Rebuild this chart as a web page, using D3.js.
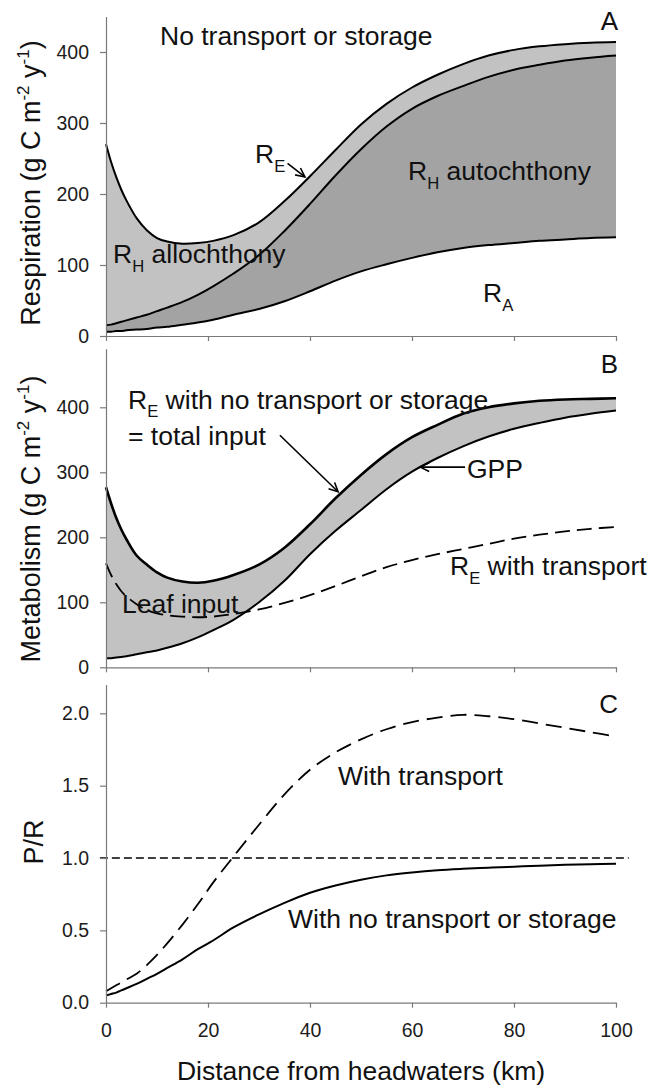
<!DOCTYPE html>
<html><head><meta charset="utf-8">
<script src="https://cdn.jsdelivr.net/npm/d3@7"></script>
<style>
html,body{margin:0;padding:0;background:#fff;}
svg{display:block;font-family:"Liberation Sans",Arial,sans-serif;}
</style></head>
<body>
<svg id="chart" width="652" height="1085"></svg>
<script>
// Distance from headwaters (km)
const dist = [0,1,2,3,4,6,8,10,12,15,18,21,25,30,35,40,45,50,55,60,65,70,75,80,85,90,95,100];
// Panel A: respiration (g C m-2 y-1)
const respRE  = [270,245,224,206,191,166,149,138,133,130,131,134,142,160,190,225,262,298,327,350,368,383,395,403,408,411,413,414];
const respGPP = [15,16,18,20,22,26,30,35,40,48,58,70,88,114,148,186,226,263,295,320,338,352,365,375,382,388,392,395];
const respRA  = [6,6,7,7,8,9,10,12,13,16,19,23,30,38,49,63,78,91,101,110,118,124,128,131,134,136,138,139];
// Panel B: metabolism (g C m-2 y-1)
const metRE   = [277,252,230,212,197,172,158,146,138,132,130,133,142,158,184,220,260,296,328,354,373,390,400,406,410,412,413,414];
const metGPP  = [14,14,15,16,17,20,23,26,30,37,46,57,73,100,133,174,210,242,274,301,322,340,355,367,376,384,390,395];
const metRETransport = [160,142,128,117,109,97,88,83,80,78,77,78,82,89,99,111,125,140,154,165,174,182,190,198,204,209,213,216];
// Panel C: P/R
const prNone  = [0.05,0.06,0.07,0.085,0.1,0.13,0.165,0.2,0.24,0.3,0.37,0.43,0.52,0.61,0.69,0.76,0.81,0.85,0.88,0.9,0.915,0.925,0.933,0.94,0.947,0.953,0.957,0.96];
const prTrans = [0.08,0.1,0.12,0.14,0.16,0.2,0.26,0.33,0.41,0.54,0.68,0.83,1.01,1.23,1.44,1.61,1.73,1.82,1.89,1.94,1.97,1.99,1.98,1.96,1.93,1.9,1.87,1.84];
// Tick values
const xTicks = [0,20,40,60,80,100];
const yTicksA = [0,100,200,300,400];
const yTicksB = [0,100,200,300,400];
const yTicksC = [0,0.5,1.0,1.5,2.0];

const svg = d3.select("#chart");
const x = d3.scaleLinear().domain([0,100]).range([106,616]);
const yA = d3.scaleLinear().domain([0,450]).range([336,16.5]);
const yB = d3.scaleLinear().domain([0,490]).range([667.3,348.8]);
const yC = d3.scaleLinear().domain([0,2.2]).range([1002.7,684.4]);

const LIGHT = "#c2c2c2", DARK = "#a3a3a3";
const curve = d3.curveCatmullRom.alpha(0.5);

function band(y, lo, hi, fill){
  svg.append("path").datum(dist.map((d,i)=>[d,lo[i],hi[i]]))
    .attr("fill",fill).attr("stroke","none")
    .attr("d", d3.area().curve(curve).x(d=>x(d[0])).y0(d=>y(d[1])).y1(d=>y(d[2])));
}
function line(y, vals, w, dash){
  const p = svg.append("path").datum(dist.map((d,i)=>[d,vals[i]]))
    .attr("fill","none").attr("stroke","#000").attr("stroke-width",w)
    .attr("stroke-linejoin","round")
    .attr("d", d3.line().curve(curve).x(d=>x(d[0])).y(d=>y(d[1])));
  if(dash) p.attr("stroke-dasharray",dash);
  return p;
}
function axes(y, yt, fmt, showX){
  const gy = svg.append("g").attr("transform","translate(106,0)")
    .call(d3.axisLeft(y).tickValues(yt).tickSize(6).tickSizeOuter(0).tickPadding(11).tickFormat(fmt));
  const gx = svg.append("g").attr("transform",`translate(0,${y(0)})`)
    .call(d3.axisBottom(x).tickValues(xTicks).tickSize(5).tickSizeOuter(0).tickPadding(15)
      .tickFormat(showX ? d3.format("d") : ""));
  [gy,gx].forEach(g=>{
    g.select(".domain").attr("stroke","#7a7a7a").attr("stroke-width",1.2);
    g.selectAll(".tick line").attr("stroke","#7a7a7a").attr("stroke-width",1.2);
    g.selectAll(".tick text").attr("fill","#1c1c1c").style("font-size","19.5px")
      .style("font-family","'Liberation Sans',Arial,sans-serif");
  });
}
function label(px, py, parts, size, subDy){
  size = size || 25.5;
  subDy = subDy || 9;
  const t = svg.append("text").attr("transform",`translate(${px},${py}) scale(1.04,1)`).attr("fill","#111")
    .style("font-size",size+"px");
  let shifted = false;
  parts.forEach(p=>{
    const s = t.append("tspan").text(p.t);
    if(p.sub){ s.style("font-size","16px").attr("dy",subDy); shifted = true; }
    else { s.style("font-size",size+"px"); if(shifted){ s.attr("dy",-subDy); shifted=false; } }
  });
  return t;
}
function arrow(y, x0, v0, x1, v1){
  const X0=x(x0), Y0=y(v0), X1=x(x1), Y1=y(v1);
  svg.append("line").attr("x1",X0).attr("y1",Y0).attr("x2",X1).attr("y2",Y1)
    .attr("stroke","#000").attr("stroke-width",1.6);
  const a = Math.atan2(Y1-Y0, X1-X0), L=10, s=0.45;
  svg.append("path")
    .attr("d",`M${X1-L*Math.cos(a-s)},${Y1-L*Math.sin(a-s)}L${X1},${Y1}L${X1-L*Math.cos(a+s)},${Y1-L*Math.sin(a+s)}`)
    .attr("fill","none").attr("stroke","#000").attr("stroke-width",1.6);
}
function yTitle(cx, cy, parts){
  const t = svg.append("text").attr("transform",`translate(${cx},${cy}) rotate(-90)`)
    .attr("text-anchor","middle").attr("fill","#111").style("font-size","27px");
  let shifted=false;
  parts.forEach(p=>{
    const s=t.append("tspan").text(p.t);
    if(p.sup){ s.style("font-size","17px").attr("dy",-11); shifted=true; }
    else { if(shifted){ s.attr("dy",11); shifted=false; } }
  });
}

// ---------- Panel A ----------
band(yA, respRA, respGPP, DARK);
band(yA, respGPP, respRE, LIGHT);
line(yA, respRA, 2);
line(yA, respGPP, 2);
line(yA, respRE, 2);
axes(yA, yTicksA, d3.format("d"), false);
label(160, 45, [{t:"No transport or storage"}]);
label(255, 163, [{t:"R"},{t:"E",sub:true}]);
arrow(yA, 35.6, 243, 39.0, 224);
label(408, 180, [{t:"R"},{t:"H",sub:true},{t:" autochthony"}]);
label(113, 263, [{t:"R"},{t:"H",sub:true},{t:" allochthony"}]);
label(483, 302, [{t:"R"},{t:"A",sub:true}]);
svg.append("text").attr("x",618).attr("y",30).attr("text-anchor","end").attr("fill","#111").style("font-size","26px").text("A");
yTitle(40, 183, [{t:"Respiration (g C m"},{t:"-2",sup:true},{t:" y"},{t:"-1",sup:true},{t:")"}]);

// ---------- Panel B ----------
band(yB, metGPP, metRE, LIGHT);
line(yB, metGPP, 2);
line(yB, metRE, 2.6);
line(yB, metRETransport, 1.8, "15,7");
axes(yB, yTicksB, d3.format("d"), false);
label(128, 409, [{t:"R"},{t:"E",sub:true},{t:" with no transport or storage"}], 25.5, 7.5);
label(128, 444.5, [{t:"= total input"}]);
arrow(yB, 34.1, 357, 45.5, 270);
label(467, 478, [{t:"GPP"}]);
arrow(yB, 70.4, 308, 61.6, 308);
label(122, 613, [{t:"Leaf input"}]);
label(450, 575, [{t:"R"},{t:"E",sub:true},{t:" with transport"}]);
svg.append("text").attr("x",618).attr("y",373).attr("text-anchor","end").attr("fill","#111").style("font-size","26px").text("B");
yTitle(40, 519, [{t:"Metabolism (g C m"},{t:"-2",sup:true},{t:" y"},{t:"-1",sup:true},{t:")"}]);

// ---------- Panel C ----------
svg.append("line").attr("x1",x(-1.2)).attr("x2",x(102.5)).attr("y1",yC(1)).attr("y2",yC(1))
  .attr("stroke","#000").attr("stroke-width",1.5).attr("stroke-dasharray","8,4");
line(yC, prNone, 2);
line(yC, prTrans, 1.8, "16,8");
axes(yC, yTicksC, d3.format(".1f"), true);
label(338, 785, [{t:"With transport"}]);
label(288, 928, [{t:"With no transport or storage"}]);
svg.append("text").attr("x",618).attr("y",713).attr("text-anchor","end").attr("fill","#111").style("font-size","26px").text("C");
yTitle(43, 842, [{t:"P/R"}]);
svg.append("text").attr("x",361).attr("y",1080).attr("text-anchor","middle").attr("fill","#111")
  .style("font-size","26.5px").text("Distance from headwaters (km)");
</script>
</body></html>
